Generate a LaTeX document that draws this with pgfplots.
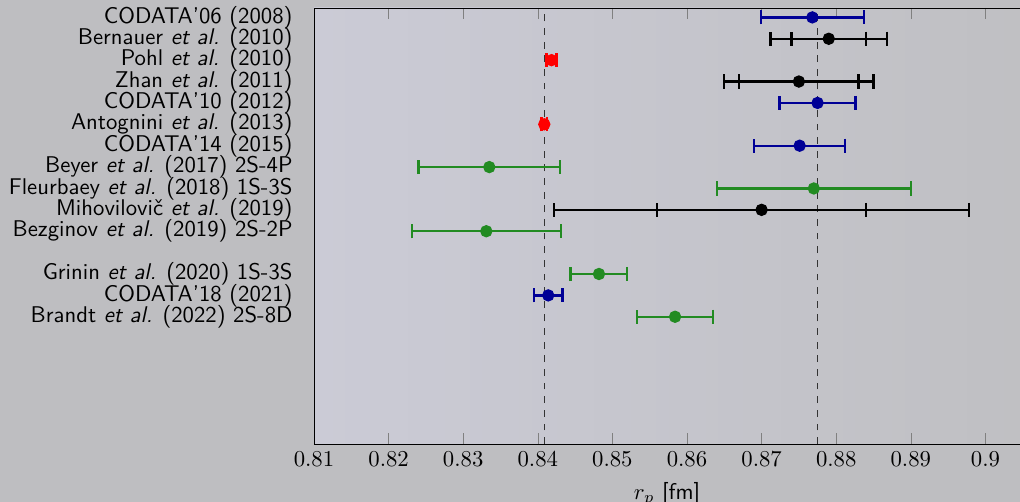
\documentclass[border=0pt]{standalone}
\usepackage{pgfplots}
\pgfplotsset{compat=1.18}
\definecolor{bgc}{RGB}{190,190,193}
\definecolor{bgl}{RGB}{203,203,214}
\definecolor{bgr}{RGB}{191,191,194}
\definecolor{cblue}{RGB}{0,0,150}
\definecolor{cgreen}{RGB}{34,139,34}
\definecolor{cred}{RGB}{255,0,0}
\pgfplotsset{
  rpbars/.style={
    error bars/x dir=both, error bars/x explicit,
    error bars/error bar style={line width=1pt},
    error bars/error mark options={line width=1pt, mark size=3.1pt, rotate=90},
  },
}
\begin{document}
\begin{tikzpicture}
\useasboundingbox (-138.16pt,-25.52pt) rectangle (310.64pt,195.36pt);
\clip (-138.16pt,-25.52pt) rectangle (310.64pt,195.36pt);
\fill[bgc] (-138.16pt,-25.52pt) rectangle (310.64pt,195.36pt);
\begin{axis}[
  scale only axis,
  width=328.24pt, height=191.84pt,
  xmin=0.81, xmax=0.91,
  ymin=-19.95, ymax=0.44,
  axis background/.style={left color=bgl, right color=bgr},
  xtick={0.81,0.82,0.83,0.84,0.85,0.86,0.87,0.88,0.89,0.90},
  major tick length=5pt,
  ytick={0,-1,-2,-3,-4,-5,-6,-7,-8,-9,-10,-12,-13,-14},
  yticklabels={
    CODATA'06 (2008),
    Bernauer \textit{et al.} (2010),
    Pohl \textit{et al.} (2010),
    Zhan \textit{et al.} (2011),
    CODATA'10 (2012),
    Antognini \textit{et al.} (2013),
    CODATA'14 (2015),
    Beyer \textit{et al.} (2017) 2S-4P,
    Fleurbaey \textit{et al.} (2018) 1S-3S,
    Mihovilovič \textit{et al.} (2019),
    Bezginov \textit{et al.} (2019) 2S-2P,
    Grinin \textit{et al.} (2020) 1S-3S,
    CODATA'18 (2021),
    Brandt \textit{et al.} (2022) 2S-8D},
  ytick style={draw=none},
  yticklabel style={font=\sffamily, xshift=-5.9pt},
  xlabel={$r_p$ \textsf{[fm]}},
  every axis x label/.style={at={(ticklabel cs:0.4732)}, anchor=near ticklabel},
]
% reference lines
\addplot[black!80, dashed, line width=0.5pt, forget plot] coordinates {(0.8409,-19.95) (0.8409,0.44)};
\addplot[black!80, dashed, line width=0.5pt, forget plot] coordinates {(0.8775,-19.95) (0.8775,0.44)};
% blue CODATA
\addplot[cblue, only marks, mark=*, mark size=2.2pt, line width=1pt, rpbars] coordinates {
  (0.8768,0) +- (0.0069,0)
  (0.8775,-4) +- (0.0051,0)
  (0.8751,-6) +- (0.0061,0)
  (0.8414,-13) +- (0.0019,0)
};
% black, outer (total) errors
\addplot[black, only marks, mark=none, line width=1pt, rpbars] coordinates {
  (0.879,-1) +- (0.0078,0)
  (0.875,-3) +- (0.0100,0)
  (0.870,-9) +- (0.0278,0)
};
% black, inner errors
\addplot[black, only marks, mark=*, mark size=2.2pt, line width=1pt, rpbars] coordinates {
  (0.879,-1) +- (0.0050,0)
  (0.875,-3) +- (0.0080,0)
  (0.870,-9) +- (0.0140,0)
};
% red muonic
\addplot[cred, only marks, mark=*, mark size=2.2pt, line width=1pt, rpbars] coordinates {
  (0.84184,-2) +- (0.00067,0)
  (0.84087,-5) +- (0.00039,0)
};
% green spectroscopy
\addplot[cgreen, only marks, mark=*, mark size=2.2pt, line width=1pt, rpbars] coordinates {
  (0.8335,-7) +- (0.0095,0)
  (0.8770,-8) +- (0.0130,0)
  (0.8331,-10) +- (0.0100,0)
  (0.8482,-12) +- (0.0038,0)
  (0.8584,-14) +- (0.0051,0)
};
\end{axis}
\end{tikzpicture}
\end{document}
